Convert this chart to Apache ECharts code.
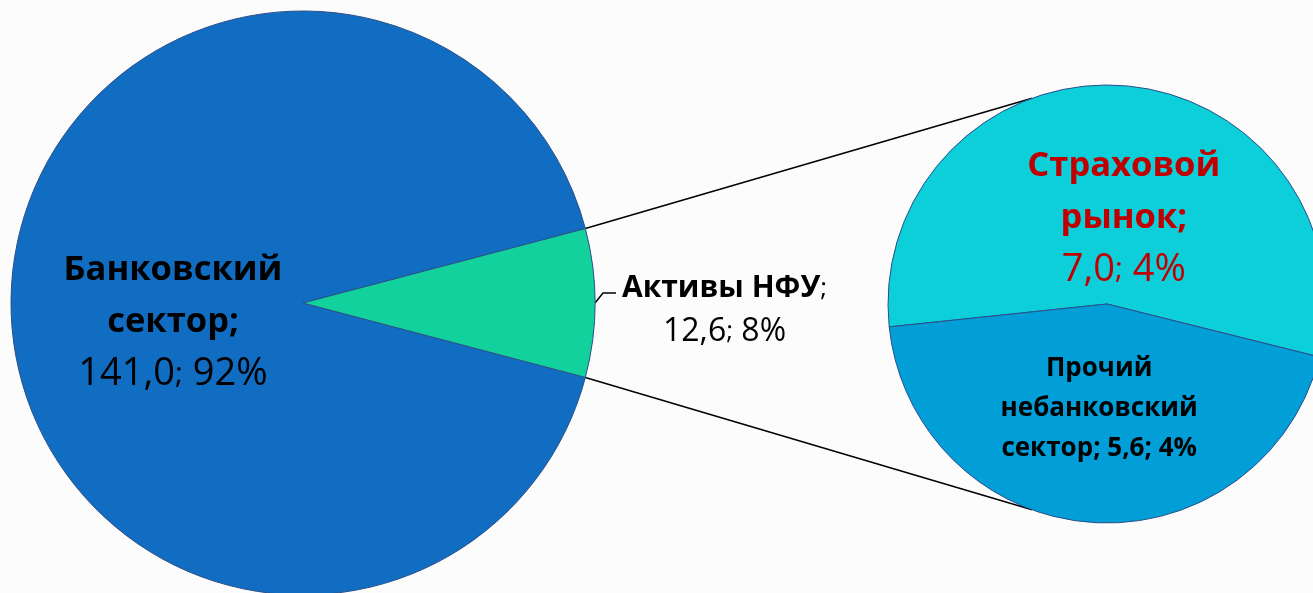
<!DOCTYPE html>
<html>
<head>
<meta charset="utf-8">
<script src="https://cdn.jsdelivr.net/npm/echarts@6/dist/echarts.min.js"></script>
<style>
  html, body { margin: 0; padding: 0; background: #fcfcfc; }
  #chart { width: 1313px; height: 593px; }
</style>
</head>
<body>
<div id="chart"></div>
<script>
// основной круг
const mainNames = ['Банковский сектор', 'Активы НФУ'];
const mainValues = [141.0, 12.6];
const mainShares = [92, 8];

// вторичный круг - разбивка активов НФУ
const subNames = ['Страховой рынок', 'Прочий небанковский сектор'];
const subValues = [7.0, 5.6];
const subShares = [4, 4];

const FONT = '"Open Sans", "Noto Sans", sans-serif';
const bigC = [303, 303], bigR = 292;
const smallC = [1107, 304], smallR = 219;

const fmt = (v) => v.toFixed(1).replace('.', ',');

const mainTotal = mainValues.reduce((a, b) => a + b, 0);
const nfuHalf = mainValues[1] / mainTotal * 360 / 2; // половина угла сектора НФУ

// точки соединительных линий
const rad = (d) => d * Math.PI / 180;
const onCircle = (c, r, deg) => [c[0] + r * Math.cos(rad(deg)), c[1] - r * Math.sin(rad(deg))];
const linkTop = [onCircle(bigC, bigR, nfuHalf), onCircle(smallC, smallR, 110)];
const linkBottom = [onCircle(bigC, bigR, -nfuHalf), onCircle(smallC, smallR, -110)];

// выноска подписи НФУ: короткий наклон и горизонталь
const leadStart = onCircle(bigC, bigR, 0);
const leadBend = [leadStart[0] + 8, leadStart[1] - 10];
const leadEnd = [leadBend[0] + 13, leadBend[1]];

const chart = echarts.init(document.getElementById('chart'));

const border = { borderColor: '#2a4f8a', borderWidth: 1 };

const option = {
  backgroundColor: '#fcfcfc',
  animation: false,
  textStyle: { fontFamily: FONT },
  graphic: [
    { type: 'polyline', z: 1, shape: { points: linkTop }, style: { stroke: '#000', lineWidth: 1.5 } },
    { type: 'polyline', z: 1, shape: { points: linkBottom }, style: { stroke: '#000', lineWidth: 1.5 } }
  ],
  series: [
    {
      type: 'pie',
      center: bigC,
      radius: bigR,
      startAngle: 360 - nfuHalf,
      clockwise: true,
      z: 2,
      labelLayout: (params) => {
        if (params.dataIndex === 1) {
          return { labelLinePoints: [leadStart, leadBend, leadEnd] };
        }
        return {};
      },
      data: [
        {
          name: mainNames[0], value: mainValues[0],
          itemStyle: Object.assign({ color: '#106dc1' }, border),
          label: {
            position: 'inside',
            offset: [19, 19],
            formatter: () => '{b|Банковский}\n{b|сектор;}\n{v|' + fmt(mainValues[0]) + '}{s|;}{v| ' + mainShares[0] + '%}',
            rich: {
              b: { fontSize: 34.5, fontWeight: 'bold', color: '#000', lineHeight: 52, fontFamily: FONT },
              v: { fontSize: 38, color: '#000', lineHeight: 52, fontFamily: FONT },
              s: { fontSize: 30, color: '#000', lineHeight: 52, fontFamily: FONT }
            }
          }
        },
        {
          name: mainNames[1], value: mainValues[1],
          itemStyle: Object.assign({ color: '#13d19c' }, border),
          label: {
            position: 'outside',
            padding: [14, 0, 0, 0],
            formatter: () => '{b|Активы НФУ}{s|;}\n{v|' + fmt(mainValues[1]) + '}{s|;}{v| ' + mainShares[1] + '%}',
            rich: {
              b: { fontSize: 30, fontWeight: 'bold', color: '#000', lineHeight: 43, align: 'center', fontFamily: FONT },
              v: { fontSize: 32, color: '#000', lineHeight: 43, align: 'center', fontFamily: FONT },
              s: { fontSize: 26, color: '#000', lineHeight: 43, align: 'center', fontFamily: FONT }
            }
          },
          labelLine: { show: true, length: 8, length2: 14, lineStyle: { color: '#000', width: 1.5 } }
        }
      ],
      labelLine: { show: false }
    },
    {
      type: 'pie',
      center: smallC,
      radius: smallR,
      startAngle: 186,
      clockwise: true,
      z: 2,
      label: { position: 'inside' },
      data: [
        {
          name: subNames[0], value: subValues[0],
          itemStyle: Object.assign({ color: '#0dcfd9' }, border),
          label: {
            offset: [9, 26],
            formatter: () => '{b|Страховой}\n{b|рынок;}\n{v|' + fmt(subValues[0]) + '}{s|;}{v| ' + subShares[0] + '%}',
            rich: {
              b: { fontSize: 34.5, fontWeight: 'bold', color: '#c00000', lineHeight: 52, fontFamily: FONT },
              v: { fontSize: 38, color: '#c00000', lineHeight: 52, fontFamily: FONT },
              s: { fontSize: 30, color: '#c00000', lineHeight: 52, fontFamily: FONT }
            }
          }
        },
        {
          name: subNames[1], value: subValues[1],
          itemStyle: Object.assign({ color: '#019ed8' }, border),
          label: {
            offset: [0, -8],
            formatter: () => '{b|Прочий}\n{b|небанковский}\n{b|сектор; ' + fmt(subValues[1]) + '; ' + subShares[1] + '%}',
            rich: {
              b: { fontSize: 26, fontWeight: 'bold', color: '#000', lineHeight: 40, fontFamily: FONT }
            }
          }
        }
      ]
    }
  ]
};

chart.setOption(option);
</script>
</body>
</html>
